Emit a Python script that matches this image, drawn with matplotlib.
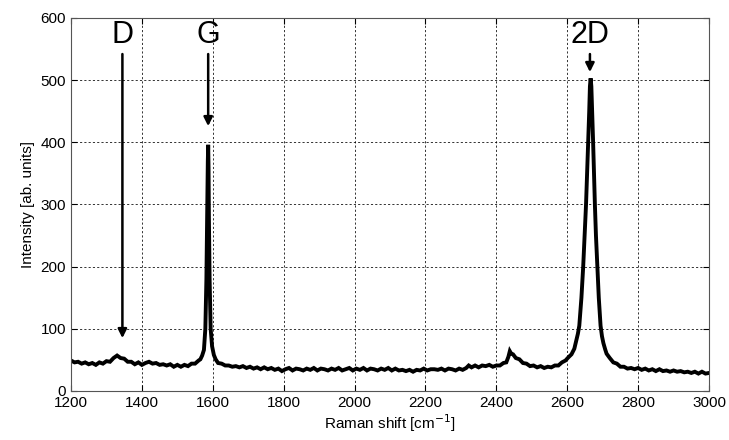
import matplotlib
matplotlib.use("Agg")
import matplotlib.pyplot as plt

plt.rcParams['font.family'] = ['Liberation Sans', 'DejaVu Sans']

raman_shift = [
    1200, 1210, 1220, 1230, 1240, 1250, 1260, 1270, 1280, 1290, 1300, 1310, 1320, 1330, 1340,
    1350, 1360, 1370, 1380, 1390, 1400, 1410, 1420, 1430, 1440, 1450, 1460, 1470, 1480, 1490,
    1500, 1510, 1520, 1530, 1540, 1550, 1560,
    1565, 1570, 1575, 1579, 1582, 1584, 1586, 1587, 1588, 1589, 1591, 1594, 1598, 1603, 1608,
    1615, 1625,
    1635, 1645, 1655, 1665, 1675, 1685, 1695, 1705, 1715, 1725, 1735, 1745, 1755, 1765, 1775,
    1785, 1795, 1805, 1815, 1825, 1835, 1845, 1855, 1865, 1875, 1885, 1895, 1905, 1915, 1925,
    1935, 1945, 1955, 1965, 1975, 1985, 1995, 2005, 2015, 2025, 2035, 2045, 2055, 2065, 2075,
    2085, 2095, 2105, 2115, 2125, 2135, 2145, 2155, 2165, 2175, 2185, 2195, 2205, 2215, 2225,
    2235, 2245, 2255, 2265, 2275, 2285, 2295, 2305, 2315, 2322, 2330, 2340, 2350, 2360, 2370,
    2380, 2390, 2400, 2410, 2420, 2428, 2434, 2438, 2442, 2447, 2455, 2465, 2475, 2485, 2495,
    2505, 2515, 2525, 2535, 2545, 2555, 2565, 2575, 2585, 2595, 2603, 2612, 2620, 2626, 2630,
    2634, 2640, 2645, 2649, 2653, 2656, 2659, 2662, 2664, 2666, 2668, 2670, 2673, 2676, 2678,
    2681, 2685, 2689, 2694, 2698, 2702, 2707, 2711, 2720, 2730, 2740, 2750, 2760, 2770, 2780,
    2790, 2800, 2810, 2820, 2830, 2840, 2850, 2860, 2870, 2880, 2890, 2900, 2910, 2920, 2930,
    2940, 2950, 2960, 2970, 2980, 2990, 3000,
]

intensity = [
    49, 46, 47, 44, 46, 43, 45, 42, 46, 44, 48, 47, 53, 57, 53,
    52, 47, 47, 43, 46, 42, 45, 47, 44, 45, 42, 43, 41, 43, 39,
    42, 39, 42, 40, 44, 44, 49,
    51, 57, 66, 100, 180, 280, 370, 396, 360, 280, 180, 100, 72, 58, 51,
    45, 44,
    41, 41, 39, 40, 38, 40, 37, 39, 36, 38, 35, 38, 35, 37, 34,
    36, 32, 35, 37, 33, 36, 35, 33, 36, 34, 37, 33, 36, 35, 33,
    36, 34, 37, 33, 35, 37, 33, 36, 34, 37, 33, 36, 35, 33, 36,
    34, 37, 33, 36, 33, 34, 32, 34, 31, 34, 33, 36, 33, 35, 35,
    34, 36, 33, 36, 35, 33, 36, 34, 37, 41, 38, 41, 38, 41, 40,
    42, 39, 41, 41, 45, 46, 55, 64, 60, 59, 53, 51, 45, 44, 40,
    41, 38, 40, 37, 39, 38, 41, 41, 46, 49, 54, 59, 68, 82, 92,
    105, 150, 200, 250, 300, 350, 400, 450, 490, 503, 490, 455, 400, 340, 300,
    250, 200, 150, 105, 88, 77, 67, 60, 53, 46, 44, 39, 39, 36, 37,
    35, 37, 34, 36, 33, 35, 32, 35, 32, 33, 31, 33, 31, 32, 30,
    31, 29, 31, 28, 31, 28, 29,
]

peak_labels = ["D", "G", "2D"]
peak_positions = [1345, 1587, 2664]
arrow_tips = [85, 426, 513]

x_ticks = [1200, 1400, 1600, 1800, 2000, 2200, 2400, 2600, 2800, 3000]
y_ticks = [0, 100, 200, 300, 400, 500, 600]

fig = plt.figure(figsize=(7.29, 4.40), dpi=100)
ax = fig.add_axes([0.0974, 0.1114, 0.8752, 0.8477])

ax.plot(raman_shift, intensity, color='black', lw=2.8, solid_joinstyle='miter')

ax.set_xlim(1200, 3000)
ax.set_ylim(0, 600)
ax.set_xticks(x_ticks)
ax.set_yticks(y_ticks)
ax.tick_params(direction='in', length=4, width=0.8, labelsize=11, top=True, right=True,
               colors='black')
ax.grid(True, color='black', linestyle=(0, (2.2, 2.2)), linewidth=0.7, alpha=0.8)
for s in ax.spines.values():
    s.set_linewidth(0.8)
    s.set_color('#555555')

ax.set_xlabel('Raman shift [cm$^{-1}$]', fontsize=11, labelpad=2)
ax.set_ylabel('Intensity [ab. units]', fontsize=11, labelpad=4)

for lab, xp, tip in zip(peak_labels, peak_positions, arrow_tips):
    ax.text(xp, 573, lab, fontsize=22, ha='center', va='center', color='black')
    ax.annotate('', xy=(xp, tip), xytext=(xp, 542),
                arrowprops=dict(arrowstyle='-|>', color='black', lw=1.8,
                                mutation_scale=13, shrinkA=0, shrinkB=0))

fig.savefig('out.png', dpi=100)
